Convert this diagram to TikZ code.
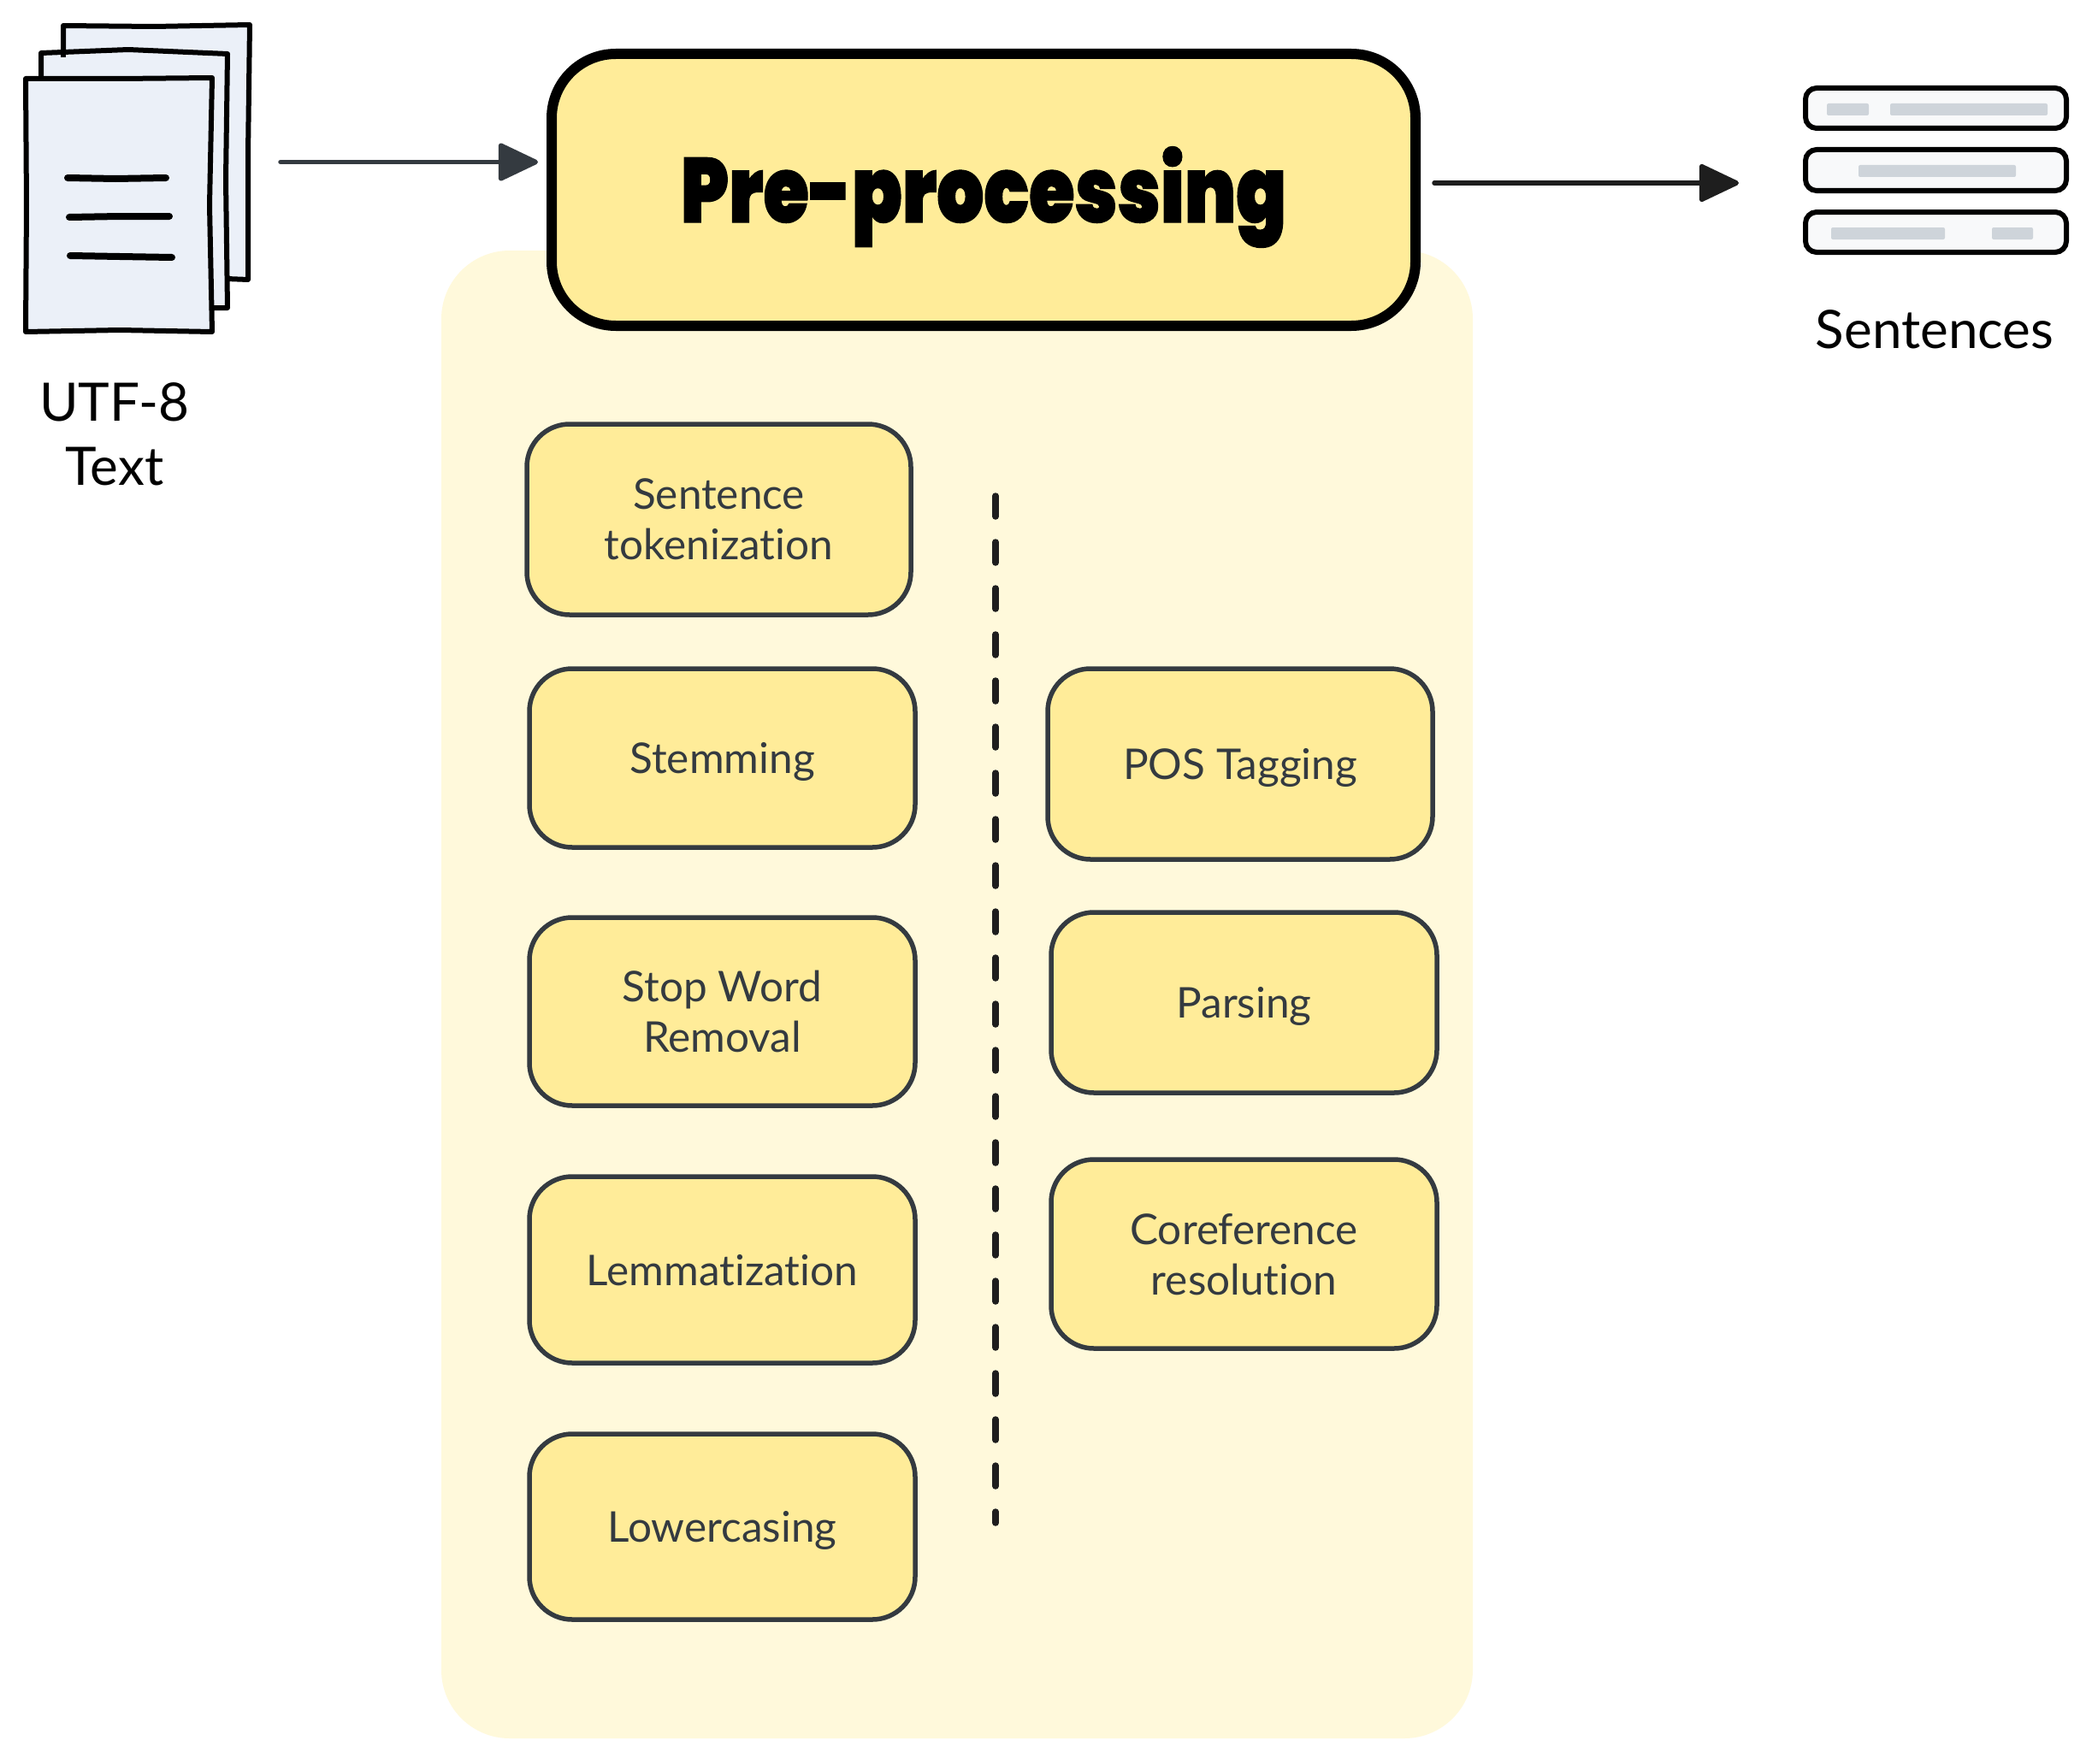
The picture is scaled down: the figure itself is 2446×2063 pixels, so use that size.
\documentclass[tikz,border=0pt]{standalone}
\usepackage{fontspec}
\setmainfont[Ligatures=NoCommon]{Lato}
\newfontfamily\titlefont[FakeStretch=0.81,FakeBold=1]{Poppins Black}
\usetikzlibrary{arrows.meta}
\definecolor{bgpale}{HTML}{FFF9DB}
\definecolor{boxfill}{HTML}{FFEC99}
\definecolor{ink}{HTML}{343A40}
\definecolor{ink2}{HTML}{1E1E1E}
\definecolor{paper}{HTML}{EBF0F8}
\definecolor{rowfill}{HTML}{F8F9FA}
\definecolor{rowbar}{HTML}{CED4DA}
\tikzset{
  x=1pt,y=-1pt,
  stepbox/.style={rounded corners=50pt,draw=ink,line width=5.5pt,fill=boxfill},
  steptext/.style={align=center,text=ink,font=\fontsize{49.5}{59}\selectfont,inner sep=0pt,text depth=0pt},
  caption/.style={align=center,text=black,font=\fontsize{62}{75}\selectfont,inner sep=0pt},
  flow/.style={line width=5.5pt,line cap=round,-{Triangle[length=50pt,width=46pt,round]}},
  pagesheet/.style={draw=black,line width=6pt,fill=paper,line join=round},
  pageline/.style={draw=black,line width=8pt,line cap=round},
  rowbox/.style={rounded corners=13pt,draw=black,line width=6pt,fill=rowfill},
  rowmark/.style={rounded corners=2pt,fill=rowbar,draw=none},
}
\newcommand{\stepnode}[6]{%
  \draw[stepbox] (#2,#4) rectangle (#3,#5);
  \node[steptext] (#1) at ({(#2+#3)/2},{(#4+#5)/2}) {#6};}
\begin{document}
\begin{tikzpicture}
\useasboundingbox (0,0) rectangle (2446,2063);
\fill[white] (0,0) rectangle (2446,2063);
% pale panel
\fill[bgpale,rounded corners=80pt] (516,293) rectangle (1722,2033);
% document stack
\draw[pagesheet] (74,30) -- (180,31) -- (292,29) -- (290,180) -- (290,327) -- (265,326) -- (74,320) -- cycle;
\draw[pagesheet] (48,62) -- (150,58) -- (266,63) -- (264,210) -- (266,360) -- (240,360) -- (48,350) -- cycle;
\draw[draw=black,line width=6pt] (74,58) -- (74,67);
\draw[pagesheet] (30,92) -- (140,92) -- (248,91) -- (245,240) -- (248,388) -- (140,386) -- (30,388) -- (31,240) -- cycle;
\draw[pageline] (79,208) -- (135,209) -- (194,208);
\draw[pageline] (81,254) -- (140,253) -- (198,253);
\draw[pageline] (82,299) -- (140,300) -- (201,301);
\node[inner sep=0pt,minimum width=262pt,minimum height=360pt] (docs) at (161,209) {};
\node[caption] (utf) at (134,508) {UTF-8\\Text};
% main box
\draw[rounded corners=75pt,draw=black,line width=12pt,fill=boxfill] (645,63) rectangle (1655,381);
\node[inner sep=0pt,minimum width=1010pt,minimum height=318pt] (mainbox) at (1150,222) {};
\node[inner sep=0pt,anchor=base,font=\titlefont\fontsize{107}{120}\selectfont,text=black] (pre) at (1150,260) {Pre-processing};
% steps
\stepnode{s1}{616}{1065}{496}{719}{Sentence\\tokenization}
\stepnode{s2}{619}{1070}{782}{991}{Stemming}
\stepnode{s3}{619}{1070}{1073}{1293}{Stop Word\\Removal}
\stepnode{s4}{619}{1070}{1376}{1594}{Lemmatization}
\stepnode{s5}{619}{1070}{1677}{1894}{Lowercasing}
\stepnode{s6}{1225}{1675}{782}{1005}{POS Tagging}
\stepnode{s7}{1229}{1680}{1067}{1278}{Parsing}
\stepnode{s8}{1229}{1680}{1356}{1577}{Coreference\\resolution}
% divider
\coordinate (divtop) at (1164,580);
\coordinate (divbot) at (1164,1781);
\draw[line width=7.5pt,draw=ink2,dash pattern=on 24pt off 30pt,line cap=round] (divtop) -- (divbot);
% arrows
\coordinate (a1s) at (328,189.5);
\coordinate (a1e) at (629,189.5);
\coordinate (a2s) at (1677,214);
\coordinate (a2e) at (2033,214);
\draw[flow,draw=ink,fill=ink] (a1s) -- (a1e);
\draw[flow,draw=ink2,fill=ink2] (a2s) -- (a2e);
% sentence rows
\draw[rowbox] (2111,103) rectangle (2416,150);
\draw[rowbox] (2111,175) rectangle (2416,223);
\draw[rowbox] (2111,248) rectangle (2416,295);
\fill[rowmark] (2136,121) rectangle (2185,135);
\fill[rowmark] (2210,121) rectangle (2394,135);
\fill[rowmark] (2173,193) rectangle (2357,207);
\fill[rowmark] (2141,266) rectangle (2274,280);
\fill[rowmark] (2329,266) rectangle (2377,280);
\node[caption] (sent) at (2262,385) {Sentences};
\end{tikzpicture}
\end{document}
